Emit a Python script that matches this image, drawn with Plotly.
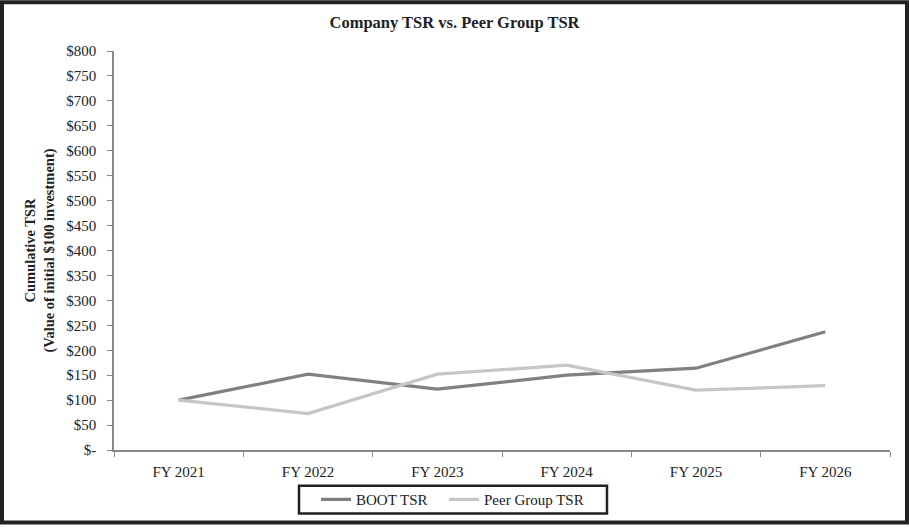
import plotly.graph_objects as go

years = ["FY 2021", "FY 2022", "FY 2023", "FY 2024", "FY 2025", "FY 2026"]
boot_tsr = [100, 152, 122, 150, 164, 237]
peer_tsr = [100, 73, 152, 170, 120, 129]
tick_vals = list(range(0, 801, 50))
tick_text = ["$-"] + [f"${v}" for v in tick_vals[1:]]

fig = go.Figure()
fig.add_trace(go.Scatter(x=years, y=boot_tsr, mode="lines", name="BOOT TSR",
                         line=dict(color="#808080", width=3.2), legend="legend"))
fig.add_trace(go.Scatter(x=years, y=peer_tsr, mode="lines", name="Peer Group TSR",
                         line=dict(color="#c6c6c6", width=3.2), legend="legend2"))

font = "Liberation Serif, Times New Roman, serif"
W, H = 909, 528
L, R, T, B = 114, 19, 51, 75
PW, PH = W - L - R, H - T - B


def px(x):
    return (x - L) / PW


def py(y):
    return (H - B - y) / PH


leg_common = dict(orientation="h", yanchor="middle", xanchor="left", y=py(503),
                  borderwidth=0, bgcolor="rgba(0,0,0,0)", font=dict(size=15, family=font))

fig.update_layout(
    width=W, height=H,
    margin=dict(l=L, r=R, t=T, b=B),
    paper_bgcolor="white", plot_bgcolor="white",
    font=dict(family=font, size=15, color="#222"),
    title=dict(text="<b>Company TSR vs. Peer Group TSR</b>", x=0.5, xanchor="center",
               y=1 - 22 / H, yanchor="middle", font=dict(size=16.5, family=font, color="#222")),
    showlegend=True,
    legend=dict(x=px(316), **leg_common),
    legend2=dict(x=px(444), **leg_common),
    xaxis=dict(type="category", range=[-0.5, 5.5], showline=True, linecolor="#888",
               linewidth=1.5, ticks="outside", tickson="boundaries", ticklen=5,
               tickcolor="#888", showgrid=False, tickfont=dict(size=15), zeroline=False,
               ticklabelstandoff=7),
    yaxis=dict(range=[0, 800], tickvals=tick_vals, ticktext=tick_text, showline=True,
               linecolor="#888", linewidth=1.5, ticks="outside", ticklen=5,
               tickcolor="#888", showgrid=False, zeroline=False, tickfont=dict(size=15),
               ticklabelstandoff=8,
               title=dict(text="<b>Cumulative TSR<br>(Value of initial $100 investment)</b>",
                          font=dict(size=14.5, family=font), standoff=8)),
    shapes=[
        dict(type="rect", xref="paper", yref="paper",
             x0=px(2), x1=px(W - 2), y0=py(H - 2), y1=py(2),
             line=dict(color="#222", width=4)),
        dict(type="rect", xref="paper", yref="paper",
             x0=px(299), x1=px(607), y0=py(517), y1=py(489),
             line=dict(color="#222", width=2.5)),
    ],
)
fig.write_html("out.html", config={"displayModeBar": False},
               post_script="document.body.style.margin='0';")
